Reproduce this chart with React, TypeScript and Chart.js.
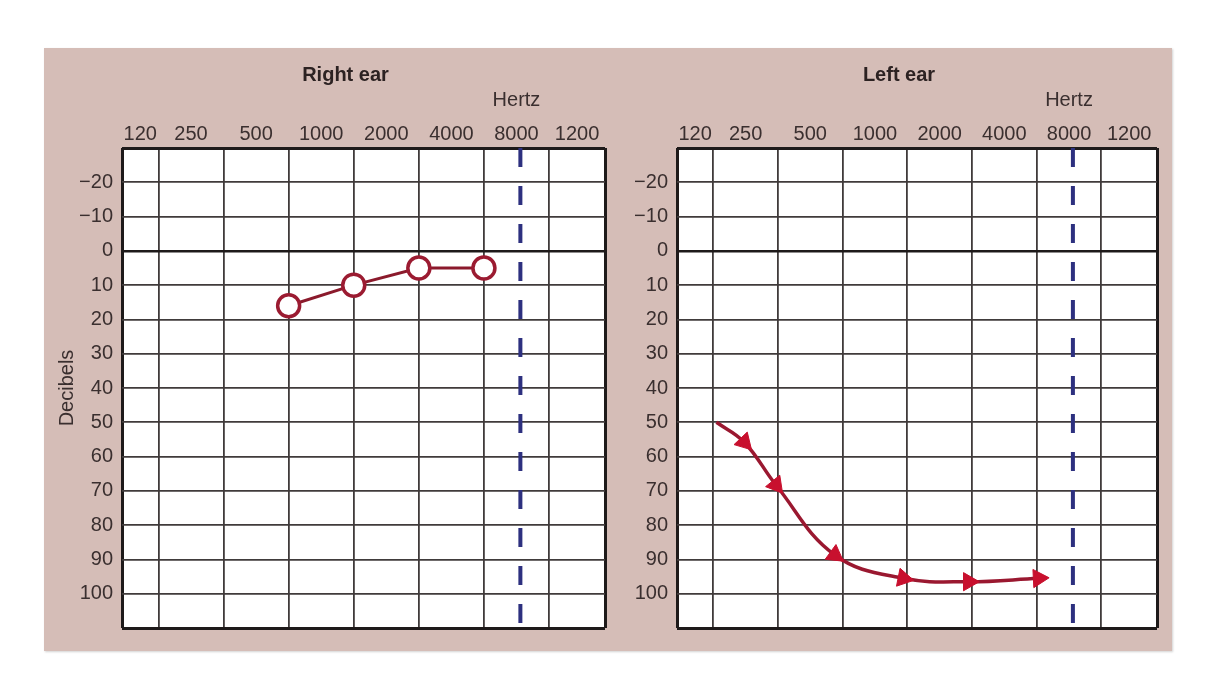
import React, { useEffect, useRef } from "react";
import { Chart, ChartConfiguration, Plugin, registerables } from "chart.js";

Chart.register(...registerables);

// frequency labels printed across the top of each audiogram
const hzLabels = ["120", "250", "500", "1000", "2000", "4000", "8000", "1200"];
// vertical grid lines sit between the labels (column index units)
const gridCols = [0, 1, 2, 3, 4, 5, 6];
const colMin = -0.56;
const colMax = 6.86;

// decibel axis
const dbMin = -30;
const dbMax = 110;
const dbStep = 10;

// right ear (circles)
const rightEarCols = [2, 3, 4, 5];
const rightEarDb = [16, 10, 5, 5];

// left ear (arrow curve)
const leftEarCols = [0.05, 0.48, 0.97, 1.88, 2.94, 3.95, 5.03];
const leftEarDb = [50, 55.8, 68.3, 88.7, 95.5, 96.5, 95.5];

// dashed cut-off near 8000 Hz
const cutoffCol = 5.56;

const FONT = "'Liberation Sans', Arial, Helvetica, sans-serif";
const INK = "#3a2f2f";
const GRID = "#403b3b";
const EDGE = "#1e1a1a";

Chart.defaults.font.family = FONT;

const colEdges = [colMin, ...gridCols, colMax];
const labelCols = hzLabels.map((_, i) => (colEdges[i] + colEdges[i + 1]) / 2);

const dbLabel = (v: number) => {
  if (v === dbMin || v === dbMax) return "";
  return v < 0 ? "\u2212" + Math.abs(v) : String(v);
};

type EarSpec = {
  title: string;
  cols: number[];
  db: number[];
  marker: "circle" | "arrow";
  showDbTitle: boolean;
  left: number;
  width: number;
  padRight: number;
  yWidth: number;
};

const rightEar: EarSpec = {
  title: "Right ear",
  cols: rightEarCols,
  db: rightEarDb,
  marker: "circle",
  showDbTitle: true,
  left: 44,
  width: 580,
  padRight: 19,
  yWidth: 78,
};

const leftEar: EarSpec = {
  title: "Left ear",
  cols: leftEarCols,
  db: leftEarDb,
  marker: "arrow",
  showDbTitle: false,
  left: 622,
  width: 550,
  padRight: 15,
  yWidth: 55,
};

const plotBackground: Plugin<"line"> = {
  id: "plotBackground",
  beforeDraw(chart) {
    const { ctx, chartArea: a } = chart;
    ctx.save();
    ctx.fillStyle = "#ffffff";
    ctx.fillRect(a.left, a.top, a.width, a.height);
    ctx.restore();
  },
};

const earText = (title: string): Plugin<"line"> => ({
  id: "earText",
  afterDraw(chart) {
    const { ctx, chartArea } = chart;
    const hz = chart.scales.hz;
    ctx.save();
    ctx.fillStyle = "#2c2222";
    ctx.textAlign = "center";
    ctx.textBaseline = "middle";
    ctx.font = `bold 20px ${FONT}`;
    ctx.fillText(title, (chartArea.left + chartArea.right) / 2 - 18, chartArea.top - 73);
    ctx.fillStyle = INK;
    ctx.font = `20px ${FONT}`;
    ctx.fillText("Hertz", hz.getPixelForValue(labelCols[6]), chartArea.top - 48);
    ctx.restore();
  },
});

function buildConfig(ear: EarSpec): ChartConfiguration<"line"> {
  const points = ear.cols.map((c, i) => ({ x: c, y: ear.db[i] }));
  const isArrow = ear.marker === "arrow";

  const earDataset: any = isArrow
    ? {
        data: points,
        borderColor: "#9a1830",
        borderWidth: 3.5,
        tension: 0.4,
        pointStyle: "triangle",
        pointRadius: (c: any) => (c.dataIndex === 0 ? 0 : 10.5),
        pointBackgroundColor: "#c8102e",
        pointBorderColor: "#c8102e",
        pointBorderWidth: 1,
        // point each arrow along the curve, from its neighbours on screen
        pointRotation: (c: any) => {
          const ch = c.chart;
          const xs = ch.scales.x;
          const ys = ch.scales.y;
          const i = c.dataIndex;
          const a = points[Math.max(0, i - 1)];
          const b = points[Math.min(points.length - 1, i + 1)];
          const dx = xs.getPixelForValue(b.x) - xs.getPixelForValue(a.x);
          const dy = ys.getPixelForValue(b.y) - ys.getPixelForValue(a.y);
          return 90 + (Math.atan2(dy, dx) * 180) / Math.PI;
        },
      }
    : {
        data: points,
        borderColor: "#8b1a2c",
        borderWidth: 3,
        pointStyle: "circle",
        pointRadius: 11,
        pointBackgroundColor: "#ffffff",
        pointBorderColor: "#9b1b31",
        pointBorderWidth: 3.5,
      };

  return {
    type: "line",
    data: {
      datasets: [
        {
          data: [
            { x: cutoffCol, y: dbMin },
            { x: cutoffCol, y: dbMax },
          ],
          borderColor: "#2d307f",
          borderWidth: 4,
          borderDash: [19, 19],
          pointRadius: 0,
        },
        earDataset,
      ],
    },
    options: {
      animation: false,
      responsive: true,
      maintainAspectRatio: false,
      layout: { padding: { left: 0, top: 0, right: ear.padRight, bottom: 23 } },
      plugins: {
        legend: { display: false },
        tooltip: { enabled: false },
      },
      scales: {
        x: {
          type: "linear",
          position: "bottom",
          min: colMin,
          max: colMax,
          afterBuildTicks: (s) => {
            s.ticks = colEdges.map((v) => ({ value: v }));
          },
          afterFit: (s) => {
            s.height = 0;
          },
          ticks: { display: false },
          grid: {
            drawTicks: false,
            color: (c) => (c.index === 0 || c.index === colEdges.length - 1 ? EDGE : GRID),
            lineWidth: (c) => (c.index === 0 || c.index === colEdges.length - 1 ? 3 : 1.8),
          },
          border: { display: false },
        },
        hz: {
          type: "linear",
          position: "top",
          min: colMin,
          max: colMax,
          afterBuildTicks: (s) => {
            s.ticks = labelCols.map((v) => ({ value: v }));
          },
          afterFit: (s) => {
            s.height = 100;
          },
          ticks: {
            autoSkip: false,
            maxRotation: 0,
            padding: 2,
            color: INK,
            font: { size: 20 },
            callback: (_v, i) => hzLabels[i],
          },
          grid: { display: false, drawTicks: false },
          border: { display: false },
        },
        y: {
          type: "linear",
          position: "left",
          reverse: true,
          min: dbMin,
          max: dbMax,
          afterFit: (s) => {
            s.width = ear.yWidth;
          },
          ticks: {
            stepSize: dbStep,
            autoSkip: false,
            padding: 9,
            color: INK,
            font: { size: 20 },
            callback: (v) => dbLabel(Number(v)),
          },
          grid: {
            drawTicks: false,
            color: (c) => {
              const v = c.tick ? c.tick.value : NaN;
              return v === dbMin || v === dbMax || v === 0 ? EDGE : GRID;
            },
            lineWidth: (c) => {
              const v = c.tick ? c.tick.value : NaN;
              if (v === dbMin || v === dbMax) return 3;
              return v === 0 ? 2.6 : 1.8;
            },
          },
          border: { display: false },
          title: {
            display: ear.showDbTitle,
            text: "Decibels",
            color: INK,
            font: { size: 20 },
            padding: { top: 11, bottom: 0 },
          },
        },
      },
    },
    plugins: [plotBackground, earText(ear.title)],
  };
}

function EarChart({ ear }: { ear: EarSpec }) {
  const canvasRef = useRef<HTMLCanvasElement | null>(null);

  useEffect(() => {
    if (!canvasRef.current) return;
    const chart = new Chart(canvasRef.current, buildConfig(ear));
    return () => {
      chart.destroy();
    };
  }, [ear]);

  return (
    <div
      style={{
        position: "absolute",
        left: ear.left,
        top: 48,
        width: ear.width,
        height: 603,
      }}
    >
      <canvas ref={canvasRef} />
    </div>
  );
}

export default function App() {
  return (
    <div
      style={{
        position: "absolute",
        left: 0,
        top: 0,
        width: 1210,
        height: 685,
        background: "#ffffff",
        overflow: "hidden",
      }}
    >
      <div
        style={{
          position: "absolute",
          left: 44,
          top: 48,
          width: 1128,
          height: 603,
          background: "#d5bdb7",
          boxShadow: "1px 1px 2px rgba(0,0,0,0.18)",
        }}
      />
      <EarChart ear={rightEar} />
      <EarChart ear={leftEar} />
    </div>
  );
}
